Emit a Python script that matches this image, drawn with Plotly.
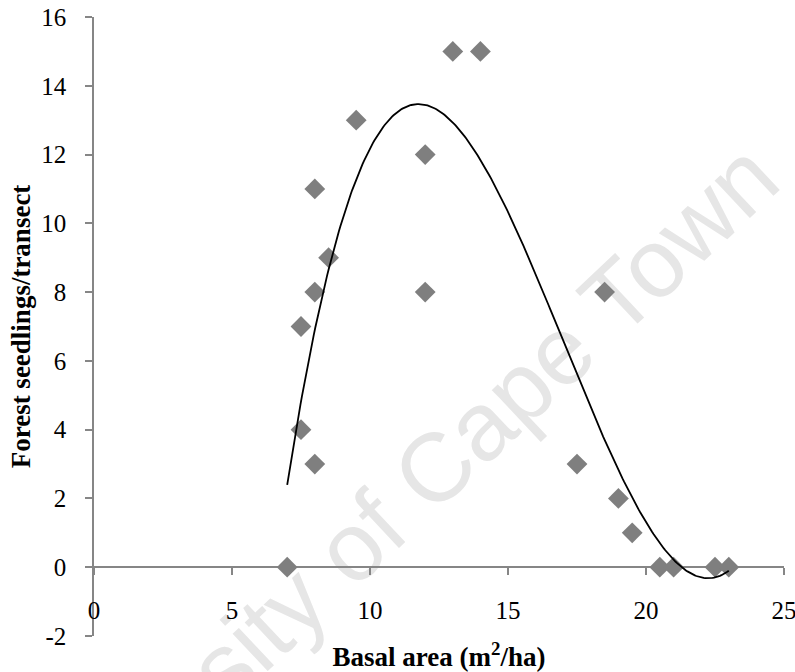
import numpy as np
import plotly.graph_objects as go

# Data
basal_area = [7, 7.5, 8, 7.5, 8, 8, 8.5, 9.5, 12, 12, 13, 14,
              17.5, 18.5, 19, 19.5, 20.5, 21, 22.5, 23]
seedlings = [0, 4, 3, 7, 8, 11, 9, 13, 12, 8, 15, 15,
             3, 8, 2, 1, 0, 0, 0, 0]

x_ticks = [0, 5, 10, 15, 20, 25]
x_tick_labels = ["0", "5", "10", "15", "20", "25"]
y_ticks = [-2, 0, 2, 4, 6, 8, 10, 12, 14, 16]
y_tick_labels = ["-2", "0", "2", "4", "6", "8", "10", "12", "14", "16"]

# Polynomial (order 3) trendline computed from the data
coef = np.polyfit(basal_area, seedlings, 3)
fit_x = np.linspace(min(basal_area), max(basal_area), 300)
fit_y = np.polyval(coef, fit_x)

FONT = "Times New Roman, Liberation Serif, serif"
AXIS_COLOR = "#868686"

fig = go.Figure()
fig.add_trace(go.Scatter(
    x=basal_area, y=seedlings, mode="markers",
    marker=dict(symbol="diamond", size=16, color="#7f7f7f", line=dict(width=0)),
    showlegend=False, hoverinfo="x+y"))
fig.add_trace(go.Scatter(
    x=fit_x, y=fit_y, mode="lines",
    line=dict(color="black", width=1.8),
    showlegend=False, hoverinfo="skip"))

# faint watermark, drawn beneath the data
fig.add_shape(type="line", xref="paper", yref="paper",
              x0=-0.118, y0=-0.350, x1=0.932, y1=0.750,
              line=dict(width=0, color="rgba(0,0,0,0)"), layer="below",
              label=dict(text="University of Cape Town", textposition="middle",
                         yanchor="middle", xanchor="center",
                         font=dict(family="Liberation Sans, Arial, sans-serif",
                                   size=97, color="#e6e6e6")))

fig.update_layout(
    width=795, height=672,
    margin=dict(l=94, r=11, t=17, b=36),
    paper_bgcolor="white", plot_bgcolor="white",
    font=dict(family=FONT, color="black"),
    xaxis=dict(
        range=[0, 25], tickvals=x_ticks, ticktext=x_tick_labels,
        showgrid=False, zeroline=False, automargin=False,
        showline=True, linecolor=AXIS_COLOR, linewidth=1.5,
        ticks="outside", ticklen=7, tickwidth=1.5, tickcolor=AXIS_COLOR,
        tickfont=dict(size=25, family=FONT), ticklabelstandoff=14,
        ticklabeloverflow="allow",
        anchor="free", position=2 / 18, layer="below traces",
        title=dict(text="<b>Basal area (m<sup>2</sup>/ha)</b>",
                   font=dict(size=27, family=FONT), standoff=24),
    ),
    yaxis=dict(
        range=[-2, 16], tickvals=y_ticks, ticktext=y_tick_labels,
        showgrid=False, zeroline=False, automargin=False,
        showline=True, linecolor=AXIS_COLOR, linewidth=1.5,
        ticks="outside", ticklen=7, tickwidth=1.5, tickcolor=AXIS_COLOR,
        tickfont=dict(size=25, family=FONT), ticklabelstandoff=14,
        ticklabeloverflow="allow",
        layer="below traces",
        title=dict(text="<b>Forest seedlings/transect</b>",
                   font=dict(size=27, family=FONT), standoff=3),
    ),
)

# remove the browser's default body margin so the figure fills the window
fig.write_html("out.html", config={"displayModeBar": False},
               post_script="document.body.style.margin='0';")
